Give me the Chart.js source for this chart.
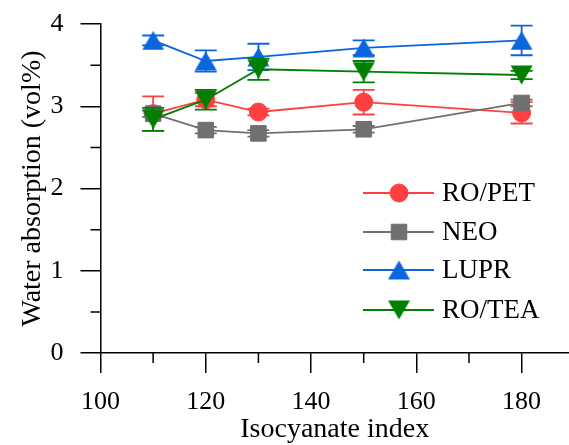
<!DOCTYPE html>
<html>
<head>
<meta charset="utf-8">
<script src="https://cdn.jsdelivr.net/npm/chart.js@4.4.1/dist/chart.umd.min.js"></script>
<style>
  html, body { margin: 0; padding: 0; background: #fff; overflow: hidden; }
</style>
</head>
<body>
<canvas id="water-chart" width="569" height="445"></canvas>
<script>
// isocyanate index values (x)
const indexValues = [110, 120, 130, 150, 180];

// water absorption, vol%
const roPet  = [2.91, 3.08, 2.93, 3.05, 2.92];
const neo    = [2.91, 2.71, 2.67, 2.72, 3.04];
const lupr   = [3.80, 3.55, 3.60, 3.71, 3.80];
const roTea  = [2.84, 3.08, 3.45, 3.42, 3.38];

// error bars (+/-)
const roPetErr = [0.21, 0.08, 0.04, 0.15, 0.13];
const neoErr   = [0.04, 0.04, 0.04, 0.04, 0.04];
const luprErr  = [0.06, 0.13, 0.16, 0.09, 0.18];
const roTeaErr = [0.14, 0.12, 0.13, 0.13, 0.05];

// ticks
const xTicks = [100, 120, 140, 160, 180];
const xMinor = [110, 130, 150, 170];
const yTicks = [0, 1, 2, 3, 4];
const yMinor = [0.5, 1.5, 2.5, 3.5];

// colors
const red = '#FF4040';
const gray = '#707070';
const blue = '#0A66DC';
const green = '#007F00';

const FAMILY = '"Liberation Serif", "Times New Roman", serif';
const TICK_FONT = { family: FAMILY, size: 26 };
const TITLE_FONT = { family: FAMILY, size: 28 };
const LEGEND_SIZE = 27;

// triangle markers centred on their box (like the original plot)
function triangle(color, down) {
  const c = document.createElement('canvas');
  const w = 23, h = 20;
  c.width = w; c.height = h;
  const g = c.getContext('2d');
  g.fillStyle = color;
  g.beginPath();
  if (down) {
    g.moveTo(0.5, 0.5); g.lineTo(w - 0.5, 0.5); g.lineTo(w / 2, h - 0.5);
  } else {
    g.moveTo(0.5, h - 0.5); g.lineTo(w / 2, 0.5); g.lineTo(w - 0.5, h - 0.5);
  }
  g.closePath();
  g.fill();
  return c;
}

function pts(values) {
  return indexValues.map((x, i) => ({ x: x, y: values[i] }));
}

function series(label, values, errs, color, style, radius, order) {
  return {
    label: label,
    data: pts(values),
    errors: errs,
    borderColor: color,
    backgroundColor: color,
    borderWidth: 1.8,
    pointStyle: style,
    pointRadius: radius,
    pointBackgroundColor: color,
    pointBorderColor: color,
    pointBorderWidth: 1,
    pointHoverRadius: radius,
    tension: 0,
    order: order
  };
}

// error bars, drawn just before each dataset
const errorBars = {
  id: 'errorBars',
  beforeDatasetDraw(chart, args) {
    const ds = chart.data.datasets[args.index];
    const xs = chart.scales.x, ys = chart.scales.y;
    const ctx = chart.ctx;
    ctx.save();
    ctx.strokeStyle = ds.borderColor;
    ctx.lineWidth = 1.8;
    ds.data.forEach((p, i) => {
      const e = ds.errors[i];
      const px = xs.getPixelForValue(p.x);
      const top = ys.getPixelForValue(p.y + e);
      const bot = ys.getPixelForValue(p.y - e);
      ctx.beginPath();
      ctx.moveTo(px, top); ctx.lineTo(px, bot);
      ctx.moveTo(px - 11, top); ctx.lineTo(px + 11, top);
      ctx.moveTo(px - 11, bot); ctx.lineTo(px + 11, bot);
      ctx.stroke();
    });
    ctx.restore();
  }
};

// minor ticks, outward, half length
const minorTicks = {
  id: 'minorTicks',
  afterDraw(chart) {
    const ctx = chart.ctx, a = chart.chartArea;
    const xs = chart.scales.x, ys = chart.scales.y;
    ctx.save();
    ctx.strokeStyle = '#000';
    ctx.lineWidth = 1.5;
    ctx.beginPath();
    xMinor.forEach(v => {
      const px = xs.getPixelForValue(v);
      ctx.moveTo(px, a.bottom); ctx.lineTo(px, a.bottom + 10);
    });
    yMinor.forEach(v => {
      const py = ys.getPixelForValue(v);
      ctx.moveTo(a.left - 10, py); ctx.lineTo(a.left, py);
    });
    ctx.stroke();
    ctx.restore();
  }
};

// legend inside the plot: line + marker + label
const lineLegend = {
  id: 'lineLegend',
  afterDraw(chart) {
    const ctx = chart.ctx;
    const rows = [193, 232, 270, 310];
    ctx.save();
    chart.data.datasets.forEach((ds, i) => {
      const y = rows[i];
      ctx.strokeStyle = ds.borderColor;
      ctx.lineWidth = 1.8;
      ctx.beginPath();
      ctx.moveTo(363, y); ctx.lineTo(434, y);
      ctx.stroke();
      ctx.fillStyle = ds.pointBackgroundColor;
      ctx.strokeStyle = ds.pointBorderColor;
      ctx.lineWidth = 1;
      Chart.helpers.drawPoint(ctx, {
        pointStyle: ds.pointStyle,
        radius: ds.pointRadius,
        rotation: 0,
        borderWidth: 1
      }, 399, y);
      ctx.fillStyle = '#000';
      ctx.font = LEGEND_SIZE + 'px ' + FAMILY;
      ctx.textAlign = 'left';
      ctx.textBaseline = 'middle';
      ctx.fillText(ds.label, 442, y + 1);
    });
    ctx.restore();
  }
};

const chart = new Chart(document.getElementById('water-chart'), {
  type: 'line',
  data: {
    datasets: [
      series('RO/PET', roPet, roPetErr, red, 'circle', 9, 4),
      series('NEO', neo, neoErr, gray, 'rect', 11, 3),
      series('LUPR', lupr, luprErr, blue, triangle(blue, false), 12, 2),
      series('RO/TEA', roTea, roTeaErr, green, triangle(green, true), 12, 1)
    ]
  },
  options: {
    responsive: false,
    animation: false,
    devicePixelRatio: 1,
    layout: { autoPadding: false, padding: { top: 24, right: 0, bottom: 0, left: 0 } },
    plugins: {
      legend: { display: false },
      tooltip: { enabled: false }
    },
    scales: {
      x: {
        type: 'linear',
        position: 'bottom',
        min: 100,
        max: 189,
        afterBuildTicks: s => { s.ticks = xTicks.map(v => ({ value: v })); },
        afterFit: s => { s.height = 92; s.paddingLeft = 0; s.paddingRight = 0; },
        grid: { drawOnChartArea: false, tickLength: 20, lineWidth: 1.5, color: '#000' },
        border: { color: '#000', width: 1.5 },
        ticks: { font: TICK_FONT, color: '#000', padding: 14, maxRotation: 0 },
        title: { display: true, text: 'Isocyanate index', font: TITLE_FONT, color: '#000', padding: { top: 0, bottom: -1 } }
      },
      y: {
        min: 0,
        max: 4,
        afterBuildTicks: s => { s.ticks = yTicks.map(v => ({ value: v })); },
        afterFit: s => { s.width = 100.5; s.paddingTop = 0; s.paddingBottom = 0; },
        grid: { drawOnChartArea: false, tickLength: 20, lineWidth: 1.5, color: '#000' },
        border: { color: '#000', width: 1.5 },
        ticks: { font: TICK_FONT, color: '#000', padding: 17 },
        title: { display: true, text: 'Water absorption (vol%)', font: TITLE_FONT, color: '#000', padding: { top: 16, bottom: 0 } }
      }
    }
  },
  plugins: [errorBars, minorTicks, lineLegend]
});
</script>
</body>
</html>
